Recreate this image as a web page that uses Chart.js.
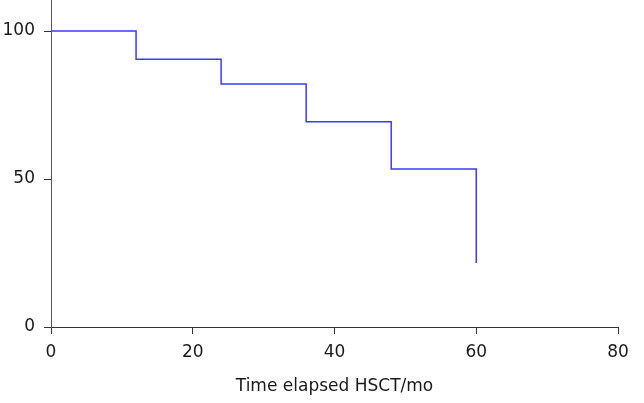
<!DOCTYPE html>
<html>
<head>
<meta charset="utf-8">
<script src="https://cdn.jsdelivr.net/npm/chart.js@4"></script>
<style>
    html, body { margin: 0; padding: 0; background: #fff; }
    #wrap { width: 644px; height: 403px; }
</style>
</head>
<body>
<div id="wrap"><canvas id="graficoSupervivencia" width="644" height="403"></canvas></div>
<script>
// tiempos (meses) y supervivencia (%)
var meses = [0, 12, 24, 36, 48, 60];
var supervivencia = [100, 90.5, 82.1, 69.4, 53.4, 21.6];
var ticksX = [0, 20, 40, 60, 80];
var ticksY = [0, 50, 100];

var fuente = { family: 'DejaVu Sans', size: 17 };
var colorEje = '#333333';

new Chart(document.getElementById('graficoSupervivencia'), {
    type: 'line',
    data: {
        datasets: [{
            data: meses.map(function (m, i) { return { x: m, y: supervivencia[i] }; }),
            borderColor: '#3a3aff',
            borderWidth: 1.5,
            stepped: 'before',
            pointRadius: 0,
            fill: false
        }]
    },
    options: {
        responsive: false,
        animation: false,
        layout: { padding: { top: 0, right: 26, bottom: 0, left: 0 } },
        plugins: { legend: { display: false }, tooltip: { enabled: false } },
        scales: {
            x: {
                type: 'linear',
                min: 0,
                max: 80,
                afterBuildTicks: function (eje) { eje.ticks = ticksX.map(function (v) { return { value: v }; }); },
                afterFit: function (eje) {
                    eje.height = 76;
                    eje.paddingLeft = 0;
                    eje.paddingRight = 0;
                },
                grid: { drawOnChartArea: false, drawTicks: true, tickLength: 7, color: colorEje },
                border: { display: true, color: colorEje, width: 1 },
                ticks: { font: fuente, color: '#1a1a1a', padding: 8, maxRotation: 0 },
                title: {
                    display: true,
                    text: 'Time elapsed HSCT/mo',
                    font: { family: 'DejaVu Sans', size: 17 },
                    color: '#1a1a1a',
                    padding: { top: 0, bottom: 6 }
                }
            },
            y: {
                type: 'linear',
                min: 0,
                max: 110.5,
                afterBuildTicks: function (eje) { eje.ticks = ticksY.map(function (v) { return { value: v }; }); },
                afterFit: function (eje) {
                    eje.width = 51;
                    eje.paddingTop = 0;
                    eje.paddingBottom = 0;
                },
                grid: { drawOnChartArea: false, drawTicks: true, tickLength: 7, color: colorEje },
                border: { display: true, color: '#555', width: 1 },
                ticks: { font: fuente, color: '#1a1a1a', padding: 9 }
            }
        }
    }
});
</script>
</body>
</html>
